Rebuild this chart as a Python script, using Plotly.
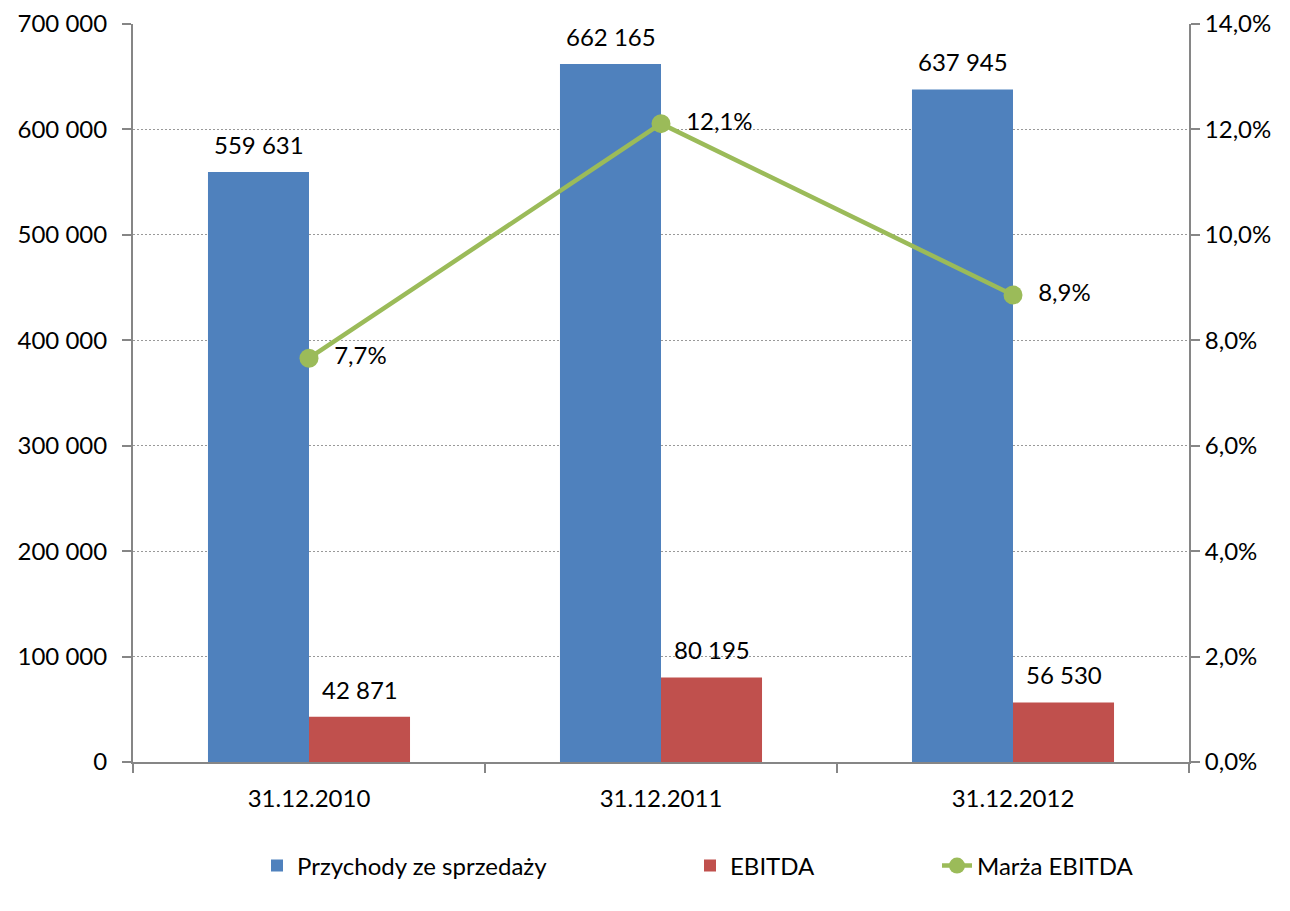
import plotly.graph_objects as go

categories = ["31.12.2010", "31.12.2011", "31.12.2012"]
przychody = [559631, 662165, 637945]
ebitda = [42871, 80195, 56530]
marza = [0.0766, 0.1211, 0.0886]
left_ticks = [0, 100000, 200000, 300000, 400000, 500000, 600000, 700000]
right_ticks = [0, 0.02, 0.04, 0.06, 0.08, 0.10, 0.12, 0.14]

FONT = "Lato"
FS = 24
AX = "#868686"
BAR_HALF_PX = 50.5

fig = go.Figure()
fig.add_trace(go.Bar(
    x=categories, y=przychody, name="Przychody ze sprzedaży",
    marker=dict(color="#4F81BD", line=dict(width=0)),
    legend="legend4", showlegend=True,
))
fig.add_trace(go.Bar(
    x=categories, y=ebitda, name="EBITDA",
    marker=dict(color="#C0504D", line=dict(width=0)),
    legend="legend2", showlegend=True,
))
fig.add_trace(go.Scatter(
    x=categories, y=marza, name="Marża EBITDA", yaxis="y2",
    mode="lines+markers+text",
    line=dict(color="#9BBB59", width=4.5),
    marker=dict(color="#9BBB59", size=19),
    texttemplate="  %{y:.1%}", textposition="middle right", cliponaxis=False,
    textfont=dict(size=FS, color="#000"), legend="legend3", showlegend=True,
))

annotations = []
for series, shift in ((przychody, -BAR_HALF_PX), (ebitda, BAR_HALF_PX)):
    for c, v in zip(categories, series):
        annotations.append(dict(
            x=c, y=v, xref="x", yref="y", text=f"{v:,}".replace(",", " "),
            showarrow=False, xshift=shift, yanchor="bottom", yshift=11,
            font=dict(size=FS, color="#000", family=FONT),
        ))

legend_common = dict(orientation="h", yanchor="middle", xref="paper", yref="paper",
                     font=dict(size=FS, color="#000", family=FONT),
                     bgcolor="rgba(0,0,0,0)", itemwidth=30)
LY = -(866 - 762) / 738
fig.update_layout(
    width=1282, height=903,
    margin=dict(l=125, r=101, t=16, b=149, autoexpand=False),
    paper_bgcolor="white", plot_bgcolor="white",
    font=dict(family=FONT, size=FS, color="#000"),
    separators=", ",
    barmode="group", bargap=0.426, bargroupgap=0,
    annotations=annotations,
    xaxis=dict(
        type="category", showline=True, linecolor=AX, linewidth=2,
        ticks="outside", tickson="boundaries", ticklen=9, tickcolor=AX, tickwidth=2,
        showgrid=False, tickfont=dict(size=FS), ticklabelstandoff=14, automargin=False,
    ),
    yaxis=dict(
        range=[0, 700000], tickvals=left_ticks, tickformat=",d",
        showline=True, linecolor=AX, linewidth=2,
        ticks="outside", ticklen=9, tickcolor=AX, tickwidth=2,
        showgrid=True, gridcolor="#999999", griddash="2px,2px", gridwidth=1,
        zeroline=False, tickfont=dict(size=FS), ticklabelstandoff=10, automargin=False,
    ),
    yaxis2=dict(
        range=[0, 0.14], tickvals=right_ticks, tickformat=".1%",
        overlaying="y", side="right",
        showline=True, linecolor=AX, linewidth=2,
        ticks="outside", ticklen=9, tickcolor=AX, tickwidth=2,
        showgrid=False, zeroline=False, tickfont=dict(size=FS), ticklabelstandoff=0,
        automargin=False,
    ),
    legend4=dict(x=(257 - 133) / 1056, y=LY, xanchor="left", **legend_common),
    legend2=dict(x=(690 - 133) / 1056, y=LY, xanchor="left", **legend_common),
    legend3=dict(x=(937 - 133) / 1056, y=LY, xanchor="left", **legend_common),
)

fig.write_html("out.html")
